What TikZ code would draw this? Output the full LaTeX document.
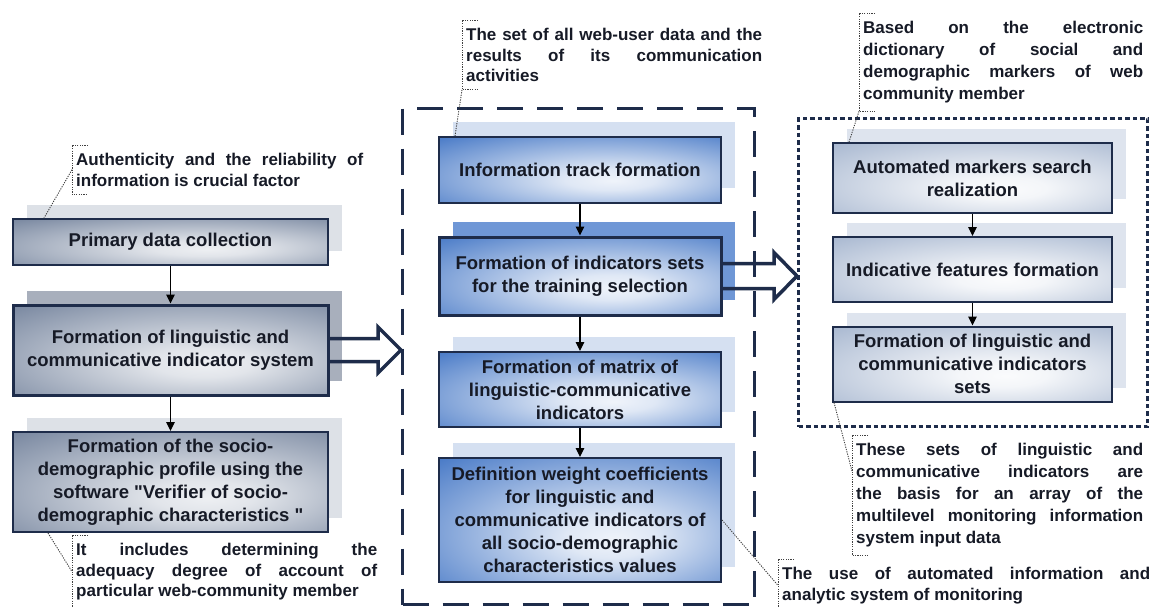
\documentclass[tikz,border=0pt]{standalone}
\usepackage{fontspec}
\setmainfont{Liberation Sans}[Ligatures=TeXOff]
\usetikzlibrary{arrows.meta,calc,shadows}

\definecolor{ink}{HTML}{161A26}
\definecolor{frame}{HTML}{1E2C4A}
\definecolor{leftedge}{HTML}{6C7C97}
\definecolor{midedge}{HTML}{386EC2}
\definecolor{rightedge}{HTML}{A0B1CC}
\definecolor{leftshadow}{HTML}{DDE1E7}
\definecolor{leftshadowdark}{HTML}{A8AFBC}
\definecolor{midshadow}{HTML}{D5E0F1}
\definecolor{midshadowdark}{HTML}{6F97D6}
\definecolor{rightshadow}{HTML}{DEE4EE}

% glowing box fills: light centre fading to the column colour at the rim
\pgfdeclareradialshading{leftglow}{\pgfpoint{6bp}{-8bp}}{%
  color(0bp)=(white!88!leftedge); color(8bp)=(white!80!leftedge);
  color(44bp)=(leftedge); color(80bp)=(leftedge)}
\pgfdeclareradialshading{midglow}{\pgfpoint{6bp}{-8bp}}{%
  color(0bp)=(white!92!midedge); color(8bp)=(white!84!midedge);
  color(44bp)=(midedge); color(80bp)=(midedge)}
\pgfdeclareradialshading{rightglow}{\pgfpoint{6bp}{-8bp}}{%
  color(0bp)=(white!95!rightedge); color(8bp)=(white!88!rightedge);
  color(44bp)=(rightedge); color(80bp)=(rightedge)}

\newcommand{\boxfont}{\fontsize{18.5}{23}\selectfont\bfseries}
\newcommand{\notefont}{\fontsize{17}{20.5}\selectfont\bfseries\hyphenpenalty=10000\relax}
\newcommand{\widenotefont}{\fontsize{17}{22}\selectfont\bfseries\hyphenpenalty=10000\relax}

\tikzset{
  box/.style={draw=frame, line width=2pt, align=center, font=\boxfont,
    text=ink, inner sep=2pt},
  thickframe/.style={line width=3pt},
  leftbox/.style={box, shading=leftglow, minimum width=315,
    general shadow={fill=leftshadow, shadow xshift=14pt, shadow yshift=14pt}},
  leftboxdark/.style={box, shading=leftglow, minimum width=315, thickframe,
    general shadow={fill=leftshadowdark, shadow xshift=14pt, shadow yshift=14pt}},
  midbox/.style={box, shading=midglow, minimum width=282,
    general shadow={fill=midshadow, shadow xshift=14pt, shadow yshift=15pt}},
  midboxdark/.style={box, shading=midglow, minimum width=282, thickframe,
    general shadow={fill=midshadowdark, shadow xshift=14pt, shadow yshift=15pt}},
  rightbox/.style={box, shading=rightglow, minimum width=279,
    general shadow={fill=rightshadow, shadow xshift=14pt, shadow yshift=14pt}},
  flow/.style={draw=black, line width=1.2pt, -{Triangle[length=9pt,width=8.5pt]}},
  hollow/.style={draw=frame, line width=3.5pt, line join=miter},
  groupdash/.style={draw=frame, line width=3pt, dash pattern=on 26pt off 14pt},
  groupdot/.style={draw=frame, line width=3pt, dash pattern=on 4.5pt off 3pt},
  note/.style={font=\notefont, text=ink, align=justify, inner xsep=4pt,
    inner ysep=8pt, anchor=north west},
  leader/.style={draw=black!75, line width=0.9pt, dash pattern=on 1.2pt off 1.2pt},
}

\begin{document}
\begin{tikzpicture}[x=1pt, y=-1pt]
\useasboundingbox (0,0) rectangle (1155,606);
\clip (0,0) rectangle (1155,606);

% group frames
\node[groupdash, anchor=north west, minimum width=352, minimum height=496] (midgroup) at (401,107) {};
\node[groupdot, anchor=north west, minimum width=349, minimum height=308] (rightgroup) at (797,117) {};

% left column
\node[leftbox, minimum height=46] (L1) at (170.5,242) {Primary data collection};
\node[leftboxdark, minimum height=90] (L2) at (170.5,350) {Formation of linguistic and\\communicative indicator system};
\node[leftbox, minimum height=100] (L3) at (170.5,482) {Formation of the socio-\\demographic profile using the\\software "Verifier of socio-\\demographic characteristics "};

% middle column
\node[midbox, minimum height=66] (M1) at (580,170) {Information track formation};
\node[midboxdark, minimum height=78] (M2) at (580,276) {Formation of indicators sets\\for the training selection};
\node[midbox, minimum height=75] (M3) at (580,389.5) {Formation of matrix of\\linguistic-communicative\\indicators};
\node[midbox, minimum height=124] (M4) at (580,520) {Definition weight coefficients\\for linguistic and\\communicative indicators of\\all socio-demographic\\characteristics values};

% right column
\node[rightbox, minimum height=70] (R1) at (972.5,178) {Automated markers search\\realization};
\node[rightbox, minimum height=65] (R2) at (972.5,269.5) {Indicative features formation};
\node[rightbox, minimum height=75] (R3) at (972.5,364) {Formation of linguistic and\\communicative indicators\\sets};

% flow inside the columns
\draw[flow] (L1.south) -- (L2.north);
\draw[flow] (L2.south) -- (L3.north);
\draw[flow] (M1.south) -- (M2.north);
\draw[flow] (M2.south) -- (M3.north);
\draw[flow] (M3.south) -- (M4.north);
\draw[flow] (R1.south) -- (R2.north);
\draw[flow] (R2.south) -- (R3.north);

% hollow block arrows between the stages
\draw[hollow] ($(L2.east)+(0,-11.5)$) -- ($(L2.east -| midgroup.west)+(-23,-11.5)$)
  -- ++(0,-11.5) -- (L2.east -| midgroup.west) -- ++(-23,23) -- ++(0,-11.5)
  -- ($(L2.east)+(0,11.5)$);
\draw[hollow] ($(M2.east)+(0,-12.5)$) -- ($(M2.east -| rightgroup.west)+(-23,-12.5)$)
  -- ++(0,-11) -- (M2.east -| rightgroup.west) -- ++(-23,23.5) -- ++(0,-11)
  -- ($(M2.east)+(0,12.5)$);

% annotations
\node[note, text width=287] (A) at (72,145) {Authenticity and the reliability of\linebreak information is crucial factor};
\node[note, text width=301] (B) at (72,535) {It includes determining the\linebreak adequacy degree of account of\linebreak particular web-community member};
\node[note, text width=296] (C) at (462,20) {The set of all web-user data and the\linebreak results of its communication\linebreak activities};
\node[note, text width=280, font=\widenotefont] (D) at (859,13) {Based on the electronic\linebreak dictionary of social and\linebreak demographic markers of web\linebreak community member};
\node[note, text width=287, font=\widenotefont] (E) at (852,435) {These sets of linguistic and\linebreak communicative indicators are\linebreak the basis for an array of the\linebreak multilevel monitoring information\linebreak system input data};
\node[note, text width=368] (F) at (778,559) {The use of automated information and\linebreak analytic system of monitoring};

\foreach \n in {A,B,C,D,E,F}
  \draw[leader] ($(\n.north west)+(16,0)$) -- (\n.north west) -- (\n.south west) -- ++(16,0);

\draw[leader] (A.west) -- ($(L1.north west)+(32,0)$);
\draw[leader] ($(L3.south west)+(36,0)$) -- (B.west);
\draw[leader] (C.south west) -- ($(M1.north west)+(17,0)$);
\draw[leader] (D.south west) -- ($(R1.north west)+(17,0)$);
\draw[leader] ($(R3.south west)+(2,0)$) -- ($(E.north west)!0.3!(E.south west)$);
\draw[leader] (M4.east) -- (F.west);
\end{tikzpicture}
\end{document}
